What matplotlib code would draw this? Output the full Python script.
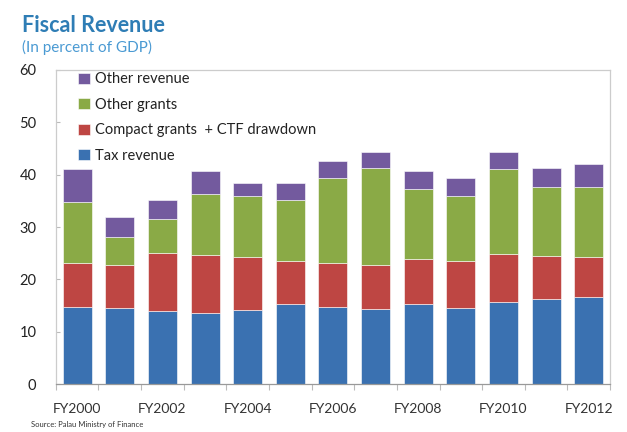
import matplotlib.pyplot as plt
import numpy as np

plt.rcParams["font.family"] = ["Lato", "DejaVu Sans"]

# ─────────────────────────────────────────────────────────────────────────────
# Data (percent of GDP)
# ─────────────────────────────────────────────────────────────────────────────
years = [f"FY{y}" for y in range(2000, 2013)]
tax_revenue = [14.8, 14.6, 13.9, 13.6, 14.1, 15.2, 14.8, 14.3, 15.2, 14.6, 15.6, 16.2, 16.6]
compact_grants = [8.4, 8.1, 11.1, 11.0, 10.1, 8.4, 8.4, 8.4, 8.6, 9.0, 9.2, 8.2, 7.7]
other_grants = [11.5, 5.3, 6.5, 11.8, 11.8, 11.6, 16.2, 18.6, 13.5, 12.4, 16.3, 13.3, 13.4]
other_revenue = [6.4, 4.0, 3.7, 4.3, 2.5, 3.2, 3.2, 3.1, 3.4, 3.4, 3.3, 3.5, 4.4]

series = [
    ("Tax revenue", tax_revenue, "#3A71B1"),
    ("Compact grants  + CTF drawdown", compact_grants, "#BE4643"),
    ("Other grants", other_grants, "#8AAA46"),
    ("Other revenue", other_revenue, "#735A9E"),
]

# ── Figure & axes ────────────────────────────────────────────────────────────
fig = plt.figure(figsize=(6.27, 4.32), dpi=100)
ax = fig.add_axes([0.089, 0.111, 0.884, 0.727])

x = np.arange(len(years))
bottom = np.zeros(len(years))
handles = []
for label, vals, color in series:
    h = ax.bar(x, vals, bottom=bottom, width=0.68, color=color,
               edgecolor="white", linewidth=0.4, label=label, zorder=2)
    bottom += np.array(vals)
    handles.append(h)

ax.set_xlim(-0.5, len(years) - 0.5)
ax.set_ylim(0, 60)
ax.set_yticks(range(0, 61, 10))
ax.tick_params(axis="y", length=3, direction="in", color="#bbbbbb",
               labelsize=10.5, labelcolor="#222222", pad=14)

# category boundary ticks on x, labels every other year
ax.set_xticks(np.arange(-0.5, len(years), 1.0), minor=False)
ax.set_xticklabels([])
ax.tick_params(axis="x", which="major", length=4, direction="out", color="#bbbbbb")
ax.set_xticks(x[::2], minor=True)
ax.set_xticklabels(years[::2], minor=True, fontsize=10)
ax.tick_params(axis="x", which="minor", length=0, pad=14, labelcolor="#333333")

for side in ["top", "right", "left", "bottom"]:
    ax.spines[side].set_color("#cccccc")
    ax.spines[side].set_linewidth(0.9)
ax.spines["bottom"].set_color("#999999")

leg = ax.legend(handles[::-1], [s[0] for s in series][::-1],
                loc="upper left", bbox_to_anchor=(0.025, 1.02), frameon=False,
                fontsize=10.5, handlelength=0.8, handleheight=0.8,
                handletextpad=0.35, labelspacing=0.78, borderaxespad=0.2)
for t in leg.get_texts():
    t.set_color("#222222")

# ── Titles & source ──────────────────────────────────────────────────────────
fig.text(0.035, 0.942, "Fiscal Revenue", fontsize=15.5, fontweight="bold",
         color="#2E7DB5", ha="left", va="center")
fig.text(0.035, 0.891, "(In percent of GDP)", fontsize=11,
         color="#4A9AD3", ha="left", va="center")
fig.text(0.05, 0.017, "Source: Palau Ministry of Finance", fontsize=5.5,
         color="#333333", ha="left", va="center")

fig.savefig("out.png", dpi=100)
